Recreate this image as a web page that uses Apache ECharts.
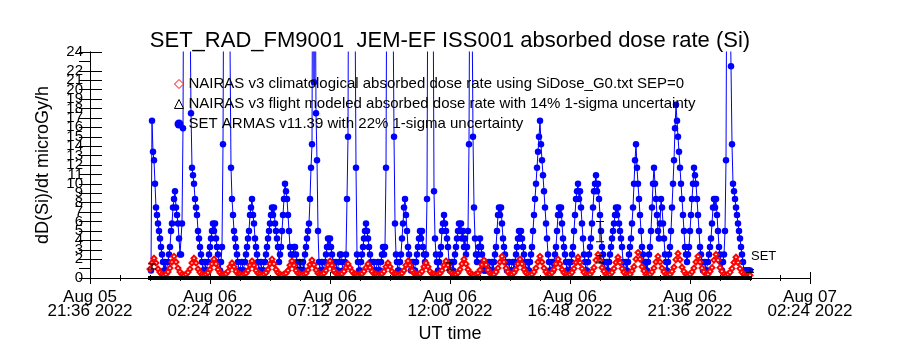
<!DOCTYPE html>
<html>
<head>
<meta charset="utf-8">
<script src="https://cdn.jsdelivr.net/npm/echarts@6/dist/echarts.min.js"></script>
<style>html,body{margin:0;padding:0;background:#fff}#chart{width:900px;height:350px}</style>
</head>
<body>
<div id="chart"></div>
<script>
// x axis unit: minutes after 2022-08-05 21:36 UT
const FONT = 'Liberation Sans';
const titleText = 'SET_RAD_FM9001  JEM-EF ISS001 absorbed dose rate (Si)';
const yAxisName = 'dD(Si)/dt microGy/h';
const xAxisName = 'UT time';
const xTickLabels = ['Aug 05\n21:36 2022', 'Aug 06\n02:24 2022', 'Aug 06\n07:12 2022',
  'Aug 06\n12:00 2022', 'Aug 06\n16:48 2022', 'Aug 06\n21:36 2022', 'Aug 07\n02:24 2022'];
const xMin = 0, xMax = 1728, xStep = 288;          // 21:36 Aug 05 .. 02:24 Aug 07, 4.8 h ticks
const yMin = 0, yMax = 24, yStep = 1;

const legendNames = [
  'NAIRAS v3 climatological absorbed dose rate using SiDose_G0.txt SEP=0',
  'NAIRAS v3 flight modeled absorbed dose rate with 14% 1-sigma uncertainty',
  'SET ARMAS v11.39 with 22% 1-sigma uncertainty'
];

// SET ARMAS samples: first at Aug 06 00:02:24 UT, every 2.4 min
const armasStartMin = 146.4;
const armasStepMin = 2.4;
const armasValues = [
  0.8, 16.7, 13.4, 12.5, 10.0, 7.5, 6.7, 5.8, 5.0, 4.2,
  3.3, 2.5, 1.7, 0.8, 1.7, 0.8, 0.8, 1.7, 2.5, 3.3,
  5.0, 5.8, 7.5, 8.4, 9.2, 7.5, 6.7, 5.8, 4.2, 2.5,
  2.5, 5.8, 15.9, 45, 70, 90, 85, 70, 50, 30,
  17.5, 11.7, 10.9, 10.0, 8.4, 7.5, 6.7, 5.0, 4.2, 3.3,
  2.5, 1.7, 0.8, 0.8, 1.7, 0.8, 0.8, 1.7, 2.5, 3.3,
  4.2, 5.0, 5.8, 5.0, 5.8, 4.2, 3.3, 2.5, 1.7, 0.8,
  1.7, 3.3, 14.2, 40, 65, 80, 75, 60, 40, 25,
  11.7, 8.4, 6.7, 5.0, 4.2, 3.3, 2.5, 1.7, 0.8, 0.8,
  0.8, 1.7, 0.8, 0.8, 1.7, 2.5, 3.3, 4.2, 5.0, 6.7,
  7.5, 8.4, 6.7, 5.8, 4.2, 3.3, 2.5, 1.7, 0.8, 0.8,
  1.7, 0.8, 0.8, 0.8, 1.7, 2.5, 3.3, 4.2, 5.0, 5.8,
  6.7, 7.5, 6.7, 7.5, 5.8, 5.0, 4.2, 3.3, 1.7, 2.5,
  3.3, 5.0, 6.7, 8.4, 10.0, 9.2, 8.4, 6.7, 5.0, 3.3,
  2.5, 1.7, 2.5, 3.3, 3.3, 2.5, 1.7, 0.8, 0.8, 1.7,
  0.8, 0.8, 1.7, 0.8, 2.5, 3.3, 4.2, 5.0, 5.8, 8.4,
  11.7, 14.2, 50, 20.8, 40, 17.5, 12.5, 5.0, 1.7, 0.8,
  0.8, 1.7, 0.8, 0.8, 1.7, 2.5, 3.3, 4.2, 3.3, 4.2,
  3.3, 2.5, 1.7, 0.8, 0.8, 1.7, 0.8, 0.8, 1.7, 2.5,
  2.5, 1.7, 0.8, 0.8, 1.7, 2.5, 8.4, 15.0, 50, 80,
  100, 90, 70, 50, 30, 11.7, 2.5, 1.7, 0.8, 0.8,
  1.7, 2.5, 3.3, 4.2, 5.0, 5.8, 5.0, 4.2, 3.3, 2.5,
  1.7, 0.8, 0.8, 1.7, 0.8, 0.8, 0.8, 1.7, 0.8, 0.8,
  1.7, 2.5, 3.3, 2.5, 3.3, 11.7, 40, 80, 100, 90,
  70, 50, 30, 15.0, 5.8, 2.5, 1.7, 0.8, 0.8, 1.7,
  2.5, 4.2, 5.8, 7.5, 8.4, 6.7, 5.0, 3.3, 2.5, 1.7,
  0.8, 0.8, 1.7, 0.8, 0.8, 1.7, 2.5, 3.3, 4.2, 5.0,
  4.2, 5.0, 3.3, 2.5, 1.7, 2.5, 8.4, 40, 70, 90,
  80, 60, 35, 9.2, 4.2, 2.5, 1.7, 0.8, 1.7, 2.5,
  3.3, 5.0, 5.8, 6.7, 5.8, 5.0, 4.2, 3.3, 1.7, 0.8,
  0.8, 1.7, 0.8, 1.7, 2.5, 3.3, 4.2, 5.0, 5.8, 5.0,
  5.8, 4.2, 5.0, 3.3, 4.2, 2.5, 3.3, 5.0, 14.2, 40,
  60, 30, 15.0, 7.5, 4.2, 2.5, 1.7, 2.5, 3.3, 4.2,
  3.3, 2.5, 1.7, 0.8, 0.8, 1.7, 0.8, 0.8, 1.7, 0.8,
  0.8, 1.7, 0.8, 1.7, 2.5, 3.3, 5.0, 6.7, 7.5, 6.7,
  7.5, 5.8, 4.2, 3.3, 2.5, 1.7, 0.8, 0.8, 1.7, 0.8,
  0.8, 0.8, 1.7, 0.8, 1.7, 2.5, 3.3, 4.2, 5.0, 4.2,
  5.0, 4.2, 3.3, 2.5, 1.7, 0.8, 0.8, 1.7, 0.8, 1.7,
  2.5, 3.3, 5.0, 6.7, 8.4, 10.0, 11.7, 13.4, 15.0, 16.7,
  14.2, 12.5, 10.9, 9.2, 7.5, 5.8, 4.2, 2.5, 1.7, 0.8,
  0.8, 1.7, 0.8, 1.7, 2.5, 3.3, 5.0, 6.7, 7.5, 6.7,
  7.5, 5.8, 4.2, 3.3, 2.5, 1.7, 0.8, 0.8, 1.7, 0.8,
  1.7, 2.5, 3.3, 5.0, 6.7, 8.4, 9.2, 10.0, 8.4, 9.2,
  7.5, 5.8, 4.2, 2.5, 1.7, 0.8, 0.8, 1.7, 2.5, 3.3,
  4.2, 5.8, 7.5, 9.2, 10.0, 10.9, 9.2, 10.0, 8.4, 6.7,
  5.0, 3.3, 2.5, 1.7, 0.8, 0.8, 1.7, 0.8, 1.7, 2.5,
  3.3, 4.2, 5.0, 5.8, 6.7, 7.5, 6.7, 7.5, 5.8, 5.0,
  4.2, 3.3, 1.7, 0.8, 0.8, 1.7, 0.8, 1.7, 2.5, 3.3,
  4.2, 5.8, 7.5, 10.0, 12.5, 14.2, 11.7, 10.0, 8.4, 6.7,
  5.0, 3.3, 2.5, 1.7, 0.8, 1.7, 0.8, 1.7, 2.5, 3.3,
  5.0, 7.5, 10.0, 11.7, 10.0, 8.4, 6.7, 5.0, 4.2, 5.8,
  8.4, 7.5, 5.8, 4.2, 2.5, 1.7, 0.8, 1.7, 2.5, 3.3,
  5.0, 7.5, 10.0, 12.5, 15.9, 18.4, 16.7, 15.0, 13.4, 11.7,
  10.0, 8.4, 6.7, 5.0, 3.3, 2.5, 1.7, 2.5, 3.3, 5.0,
  6.7, 8.4, 10.0, 11.7, 10.9, 10.0, 8.4, 6.7, 5.0, 3.3,
  2.5, 1.7, 0.8, 0.8, 1.7, 0.8, 0.8, 1.7, 2.5, 3.3,
  4.2, 5.8, 7.5, 8.4, 7.5, 8.4, 6.7, 5.0, 3.3, 2.5,
  1.7, 0.8, 1.7, 2.5, 5.0, 12.5, 40, 80, 60, 30,
  22.5, 14.2, 10.0, 9.2, 8.4, 7.5, 6.7, 5.8, 5.0, 4.2,
  3.3, 2.5, 1.7, 0.8, 0.8, 0.8, 0.8, 0.8, 0.8, 0.8
];

// NAIRAS climatological samples: first at Aug 06 00:00 UT, every 4.8 min
const climStartMin = 144;
const climStepMin = 4.8;
const climValues = [
  0.95, 1.6, 2.1, 1.6, 0.95, 0.6, 0.4, 0.3, 0.4, 0.65,
  1.05, 1.7, 2.3, 1.7, 1.05, 0.65, 0.4, 0.3, 0.4, 0.6,
  0.95, 1.6, 2.1, 1.6, 0.95, 0.6, 0.4, 0.3, 0.4, 0.55,
  0.9, 1.5, 2.0, 1.5, 0.9, 0.55, 0.4, 0.4, 0.45, 0.7,
  1.2, 1.6, 1.2, 0.7, 0.45, 0.4, 0.3, 0.4, 0.5, 0.8,
  1.35, 1.8, 1.35, 0.8, 0.5, 0.4, 0.3, 0.4, 0.55, 0.9,
  1.5, 2.0, 1.5, 0.9, 0.55, 0.4, 0.3, 0.4, 0.5, 0.8,
  1.35, 1.8, 1.35, 0.8, 0.5, 0.4, 0.3, 0.4, 0.5, 0.85,
  1.4, 1.9, 1.4, 0.85, 0.5, 0.4, 0.4, 0.5, 0.8, 1.35,
  1.8, 1.35, 0.8, 0.5, 0.4, 0.4, 0.45, 0.7, 1.1, 1.5,
  1.1, 0.7, 0.45, 0.4, 0.3, 0.4, 0.45, 0.7, 1.1, 1.5,
  1.1, 0.7, 0.45, 0.4, 0.3, 0.4, 0.45, 0.7, 1.2, 1.6,
  1.2, 0.7, 0.45, 0.4, 0.3, 0.4, 0.5, 0.8, 1.35, 1.8,
  1.35, 0.8, 0.5, 0.4, 0.4, 0.45, 0.7, 1.2, 1.6, 1.2,
  0.7, 0.45, 0.4, 0.3, 0.4, 0.5, 0.8, 1.35, 1.8, 1.35,
  0.8, 0.5, 0.4, 0.4, 0.55, 0.9, 1.5, 2.0, 1.5, 0.9,
  0.55, 0.4, 0.3, 0.4, 0.5, 0.85, 1.4, 1.9, 1.4, 0.85,
  0.5, 0.4, 0.4, 0.65, 1.05, 1.7, 2.3, 1.7, 1.05, 0.65,
  0.4, 0.4, 0.55, 0.9, 1.5, 2.0, 1.5, 0.9, 0.55, 0.4,
  0.3, 0.4, 0.65, 1.05, 1.7, 2.3, 1.7, 1.05, 0.65, 0.4,
  0.4, 0.55, 0.9, 1.5, 2.0, 1.5, 0.9, 0.55, 0.4, 0.3,
  0.4, 0.6, 1.0, 1.65, 2.2, 1.65, 1.0, 0.6, 0.4, 0.3,
  0.4, 0.7, 1.1, 1.9, 2.5, 1.9, 1.1, 0.7, 0.4, 0.3,
  0.4, 0.6, 1.0, 1.65, 2.2, 1.65, 1.0, 0.6, 0.4, 0.3,
  0.4, 0.75, 1.2, 2.0, 2.7, 2.0, 1.2, 0.75, 0.4, 0.3,
  0.4, 0.65, 1.05, 1.7, 2.3, 1.7, 1.05, 0.65, 0.4, 0.3,
  0.4, 0.7, 1.15, 1.95, 2.6, 1.95, 1.15, 0.7, 0.4, 0.3,
  0.4, 0.65, 1.05, 1.7, 2.3, 1.7, 1.05, 0.65, 0.4, 0.4,
  0.7, 1.1, 1.9, 2.5, 1.9, 1.1, 0.7, 0.4, 0.3, 0.4,
  0.6, 1.0, 1.65, 2.2, 1.65, 1.0, 0.6, 0.4, 0.3, 0.3,
  0.3
];

// NAIRAS flight-modeled trace along the bottom
const flightTimesMin = [139.2, 1588.8];
const flightValues = [0, 0];

// uncertainty bars
const errTimesMin = [148.8, 504, 864, 1224, 1224, 1584];
const errLow  = [0.95, 1.1, 0.85, 3.85, 1.6, 0.6];
const errHigh = [1.5, 1.9, 1.6, 6.0, 2.4, 0.9];

const endLabel = 'SET';

const armasData = armasValues.map((v, i) => [armasStartMin + i * armasStepMin, v]);
const climData = climValues.map((v, i) => [climStartMin + i * climStepMin, v]);
const flightData = flightTimesMin.map((t, i) => [t, flightValues[i]]);
const errData = errTimesMin.map((t, i) => [t, errLow[i], errHigh[i]]);

const chart = echarts.init(document.getElementById('chart'), null, {renderer: 'canvas'});
const axisBase = {
  axisLine: {show: true, lineStyle: {color: '#000', width: 1}},
  splitLine: {show: false}
};
chart.setOption({
  animation: false,
  backgroundColor: '#fff',
  title: {
    text: titleText, left: 'center', top: 25,
    textStyle: {fontFamily: FONT, fontSize: 22, fontWeight: 'normal', color: '#000'}
  },
  grid: {left: 90, right: 90, top: 52, bottom: 72, containLabel: false, outerBoundsMode: 'none'},
  legend: {
    orient: 'vertical', left: 169, top: 71, itemWidth: 9, itemHeight: 9, itemGap: 4, itemTextGap: 3,
    selectedMode: false,
    textStyle: {fontFamily: FONT, fontSize: 15, color: '#000', lineHeight: 16},
    data: [
      {name: legendNames[0], icon: 'diamond', itemStyle: {color: '#fff', borderColor: '#ff0000', borderWidth: 1}},
      {name: legendNames[1], icon: 'triangle', itemStyle: {color: '#fff', borderColor: '#000', borderWidth: 1}},
      {name: legendNames[2], icon: 'circle', itemStyle: {color: '#0000ff', borderWidth: 0}}
    ]
  },
  xAxis: [
    Object.assign({}, axisBase, {
      type: 'value', position: 'bottom', min: xMin, max: xMax, interval: xStep,
      axisTick: {show: true, inside: true, length: 6, lineStyle: {color: '#000'}},
      minorTick: {show: true, splitNumber: 4, length: 3, lineStyle: {color: '#000'}},
      axisLabel: {
        color: '#000', fontFamily: FONT, fontSize: 17, lineHeight: 14.5, margin: 12,
        showMinLabel: true, showMaxLabel: true, hideOverlap: false,
        formatter: v => xTickLabels[Math.round((v - xMin) / xStep)] || ''
      },
      name: xAxisName, nameLocation: 'middle', nameGap: 44,
      nameTextStyle: {fontFamily: FONT, fontSize: 18, color: '#000'}
    }),
    Object.assign({}, axisBase, {
      type: 'value', position: 'top', min: xMin, max: xMax, interval: xStep,
      axisTick: {show: true, inside: true, length: 6, lineStyle: {color: '#000'}},
      minorTick: {show: true, splitNumber: 4, length: 3, lineStyle: {color: '#000'}},
      axisLabel: {show: false}
    })
  ],
  yAxis: [
    Object.assign({}, axisBase, {
      type: 'value', position: 'left', min: yMin, max: yMax, interval: yStep,
      axisTick: {show: true, inside: true, length: 12, lineStyle: {color: '#000'}},
      axisLabel: {color: '#000', fontFamily: FONT, fontSize: 15, margin: 7, showMinLabel: true, showMaxLabel: true, hideOverlap: false},
      name: yAxisName, nameLocation: 'middle', nameGap: 38, nameRotate: 90,
      nameTextStyle: {fontFamily: FONT, fontSize: 18, color: '#000'}
    }),
    Object.assign({}, axisBase, {
      type: 'value', position: 'right', min: yMin, max: yMax, interval: yStep,
      axisTick: {show: true, inside: true, length: 11, lineStyle: {color: '#000'}},
      axisLabel: {show: false}
    })
  ],
  series: [
    {
      name: legendNames[2], type: 'line', xAxisIndex: 0, yAxisIndex: 0, data: armasData,
      symbol: 'circle', symbolSize: 6.5, showAllSymbol: true, clip: true,
      itemStyle: {color: '#0000ff'}, lineStyle: {color: '#0000ff', width: 1}, z: 2
    },
    {
      name: legendNames[0], type: 'line', xAxisIndex: 0, yAxisIndex: 0, data: climData,
      symbol: 'emptyDiamond', symbolSize: 5, showAllSymbol: true, clip: true,
      itemStyle: {color: '#ff0000', borderWidth: 1}, lineStyle: {color: '#ff0000', width: 1}, z: 3
    },
    {
      name: legendNames[1], type: 'line', xAxisIndex: 0, yAxisIndex: 0, data: flightData,
      symbol: 'none', clip: false,
      itemStyle: {color: '#000'}, lineStyle: {color: '#000', width: 4}, z: 4
    },
    {
      type: 'custom', xAxisIndex: 0, yAxisIndex: 0, data: errData, z: 5,
      renderItem: function (params, api) {
        const lo = api.coord([api.value(0), api.value(1)]);
        const hi = api.coord([api.value(0), api.value(2)]);
        const hw = 4;
        const st = {stroke: '#000', lineWidth: 1};
        return {type: 'group', children: [
          {type: 'line', shape: {x1: lo[0], y1: lo[1], x2: hi[0], y2: hi[1]}, style: st},
          {type: 'line', shape: {x1: lo[0] - hw, y1: lo[1], x2: lo[0] + hw, y2: lo[1]}, style: st},
          {type: 'line', shape: {x1: hi[0] - hw, y1: hi[1], x2: hi[0] + hw, y2: hi[1]}, style: st}
        ]};
      }
    }
  ],
  graphic: [
    {type: 'text', left: 751, top: 250, style: {text: endLabel, fontFamily: FONT, fontSize: 13, fill: '#000'}}
  ]
});
</script>
</body>
</html>
